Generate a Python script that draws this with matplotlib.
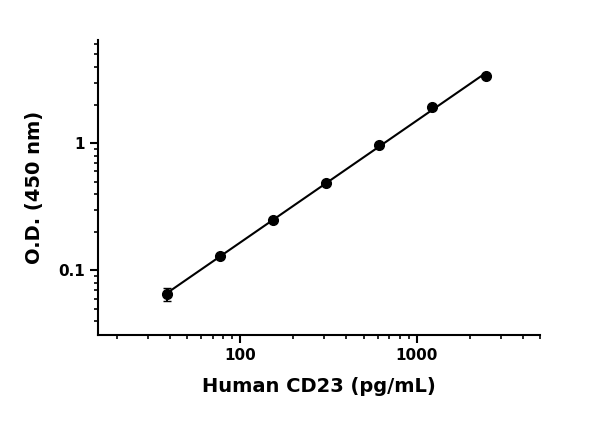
import numpy as np
import matplotlib
matplotlib.use("Agg")
import matplotlib.pyplot as plt

conc = [38.4, 76.8, 153.6, 307.2, 614.4, 1228.8, 2457.6]
od = [0.065, 0.129, 0.250, 0.484, 0.97, 1.92, 3.37]
od_err = [0.008, 0.004, 0.006, 0.01, 0.02, 0.03, 0.05]

fig = plt.figure(figsize=(6, 4.29), dpi=100)
ax = fig.add_axes([0.163, 0.219, 0.737, 0.688])
ax.set_xscale("log"); ax.set_yscale("log")
ax.set_xlim(15.6, 5000); ax.set_ylim(0.031, 6.5)

lx = np.log10(conc); ly = np.log10(od)
p = np.polyfit(lx, ly, 1)
xf = np.linspace(lx[0], lx[-1], 50)
ax.plot(10**xf, 10**np.polyval(p, xf), color="black", lw=1.5)
ax.errorbar(conc, od, yerr=od_err, fmt="o", color="black", ms=7, capsize=3, elinewidth=1.5)

for s in ["top", "right"]:
    ax.spines[s].set_visible(False)
for s in ["left", "bottom"]:
    ax.spines[s].set_linewidth(1.5)
ax.set_xticks([100, 1000]); ax.set_xticklabels(["100", "1000"], fontweight="bold")
ax.set_yticks([0.1, 1]); ax.set_yticklabels(["0.1", "1"], fontweight="bold")
ax.tick_params(which="major", length=6, width=1.5, labelsize=11)
ax.tick_params(which="minor", length=3, width=1.2)
ax.tick_params(axis="y", which="minor", labelleft=False)
ax.tick_params(axis="x", which="minor", labelbottom=False)
ax.set_xlabel("Human CD23 (pg/mL)", fontsize=14, fontweight="bold", labelpad=10)
ax.set_ylabel("O.D. (450 nm)", fontsize=14, fontweight="bold", labelpad=10)
fig.savefig("out.png", dpi=100)
